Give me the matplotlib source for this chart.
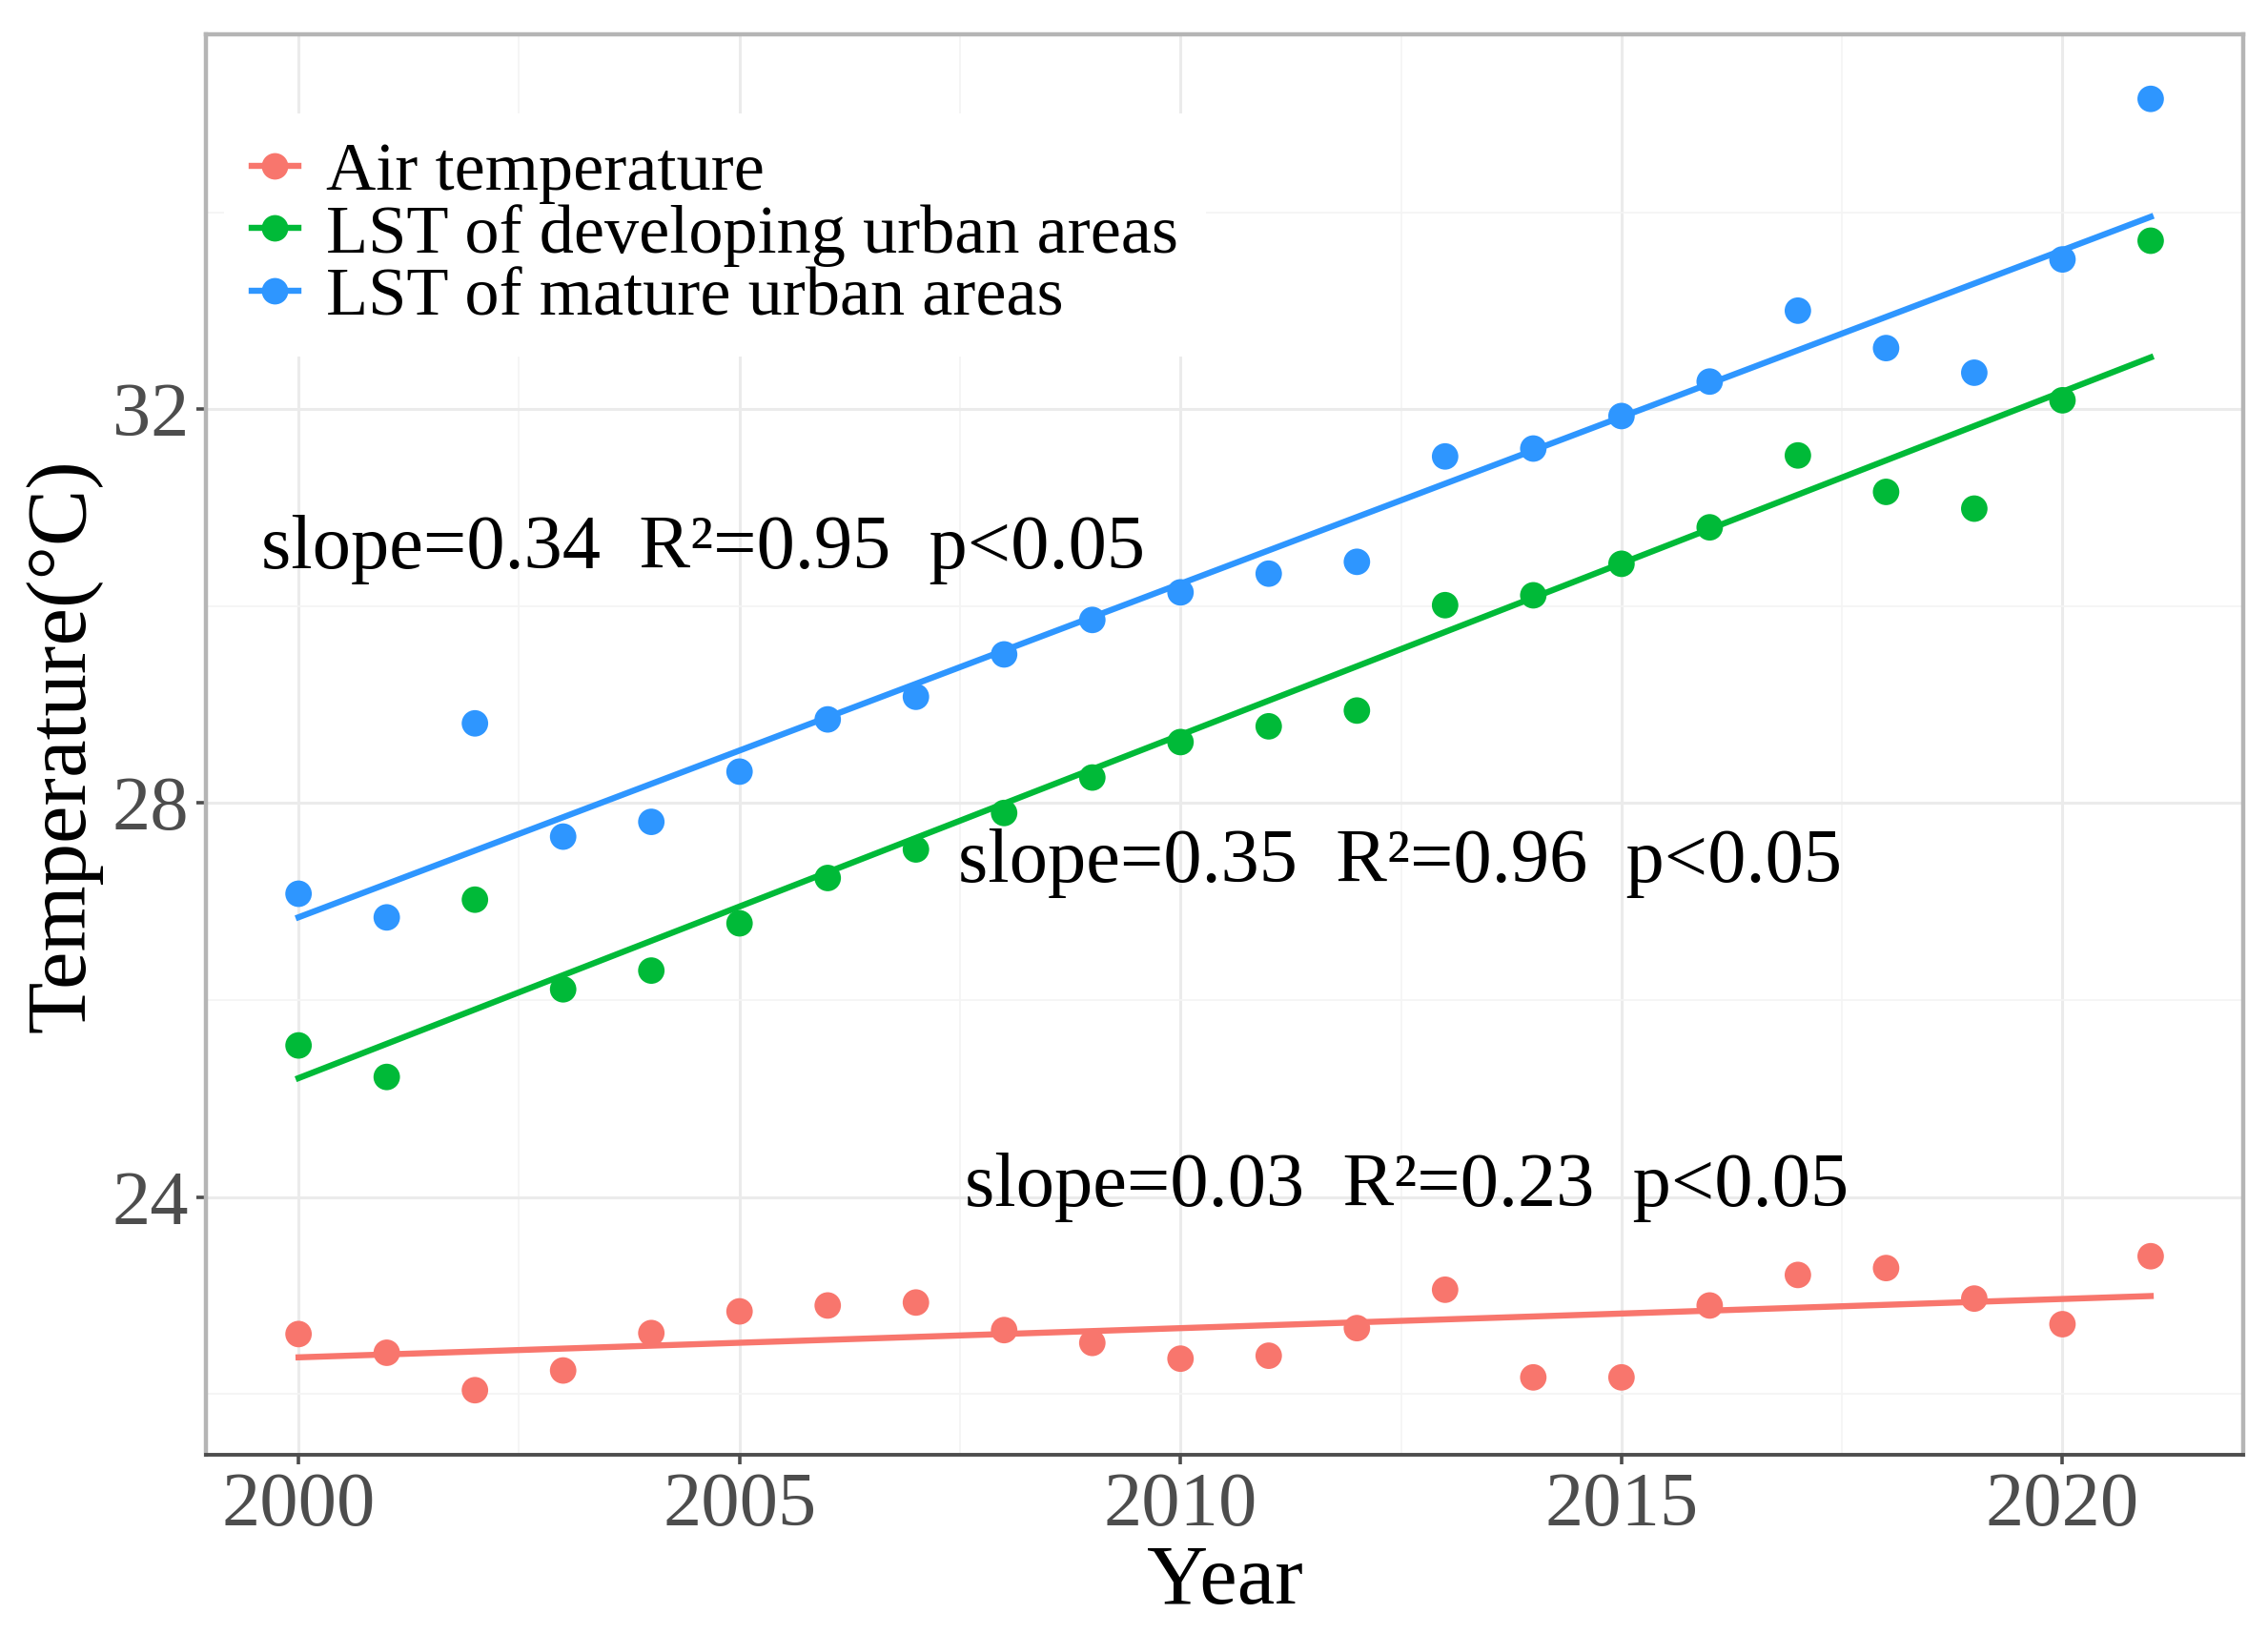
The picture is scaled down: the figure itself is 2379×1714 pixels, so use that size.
import numpy as np
import matplotlib
matplotlib.use('Agg')
import matplotlib.pyplot as plt
from matplotlib.ticker import MultipleLocator
from matplotlib.lines import Line2D

plt.rcParams['font.family'] = ['Liberation Serif', 'DejaVu Serif']

years = np.arange(2000, 2022)

air = [22.61, 22.42, 22.04, 22.24, 22.62, 22.84, 22.90, 22.93, 22.65, 22.52, 22.36,
       22.39, 22.67, 23.06, 22.17, 22.17, 22.90, 23.21, 23.28, 22.97, 22.71, 23.40]
developing = [25.54, 25.22, 27.02, 26.11, 26.30, 26.78, 27.24, 27.53, 27.90, 28.26, 28.62,
              28.78, 28.94, 30.01, 30.11, 30.43, 30.80, 31.53, 31.16, 30.99, 32.09, 33.71]
mature = [27.08, 26.84, 28.81, 27.66, 27.81, 28.32, 28.85, 29.08, 29.51, 29.86, 30.14,
          30.33, 30.45, 31.52, 31.60, 31.93, 32.28, 33.00, 32.62, 32.37, 33.52, 35.15]

series = [
    ('Air temperature', air, '#F8766D'),
    ('LST of developing urban areas', developing, '#00BA38'),
    ('LST of mature urban areas', mature, '#2E96FF'),
]

# (text, x, y) in data units
annotations = [
    ('slope=0.34  R\u00b2=0.95  p<0.05', 2004.59, 30.57),
    ('slope=0.35  R\u00b2=0.96  p<0.05', 2012.49, 27.39),
    ('slope=0.03  R\u00b2=0.23  p<0.05', 2012.56, 24.10),
]

fig = plt.figure(figsize=(11.895, 8.57), dpi=200)
ax = fig.add_axes([0.0908, 0.1097, 0.8983, 0.8693])

handles = []
for name, vals, col in series:
    vals = np.asarray(vals)
    k, b = np.polyfit(years, vals, 1)
    ax.plot(years, k * years + b, color=col, lw=2.3, zorder=3)
    ax.scatter(years, vals, s=100, color=col, edgecolors='none', zorder=4)
    handles.append(Line2D([], [], color=col, lw=2.3, marker='o', markersize=10,
                          markeredgewidth=0, label=name))

for txt, x, y in annotations:
    ax.text(x, y, txt, ha='center', va='center', fontsize=29, color='black', zorder=5)

allv = np.concatenate([air, developing, mature])
lo, hi = allv.min(), allv.max()
pad = 0.05 * (hi - lo)
ax.set_ylim(lo - pad, hi + pad)
ax.set_xlim(2000 - 0.05 * 21, 2021 + 0.05 * 21)

ax.xaxis.set_major_locator(MultipleLocator(5))
ax.xaxis.set_minor_locator(MultipleLocator(2.5))
ax.yaxis.set_major_locator(MultipleLocator(4))
ax.yaxis.set_minor_locator(MultipleLocator(2))
ax.set_yticks([24, 28, 32])

ax.grid(which='major', color='#EBEBEB', lw=1.1, zorder=0)
ax.grid(which='minor', color='#F4F4F4', lw=0.6, zorder=0)
ax.set_axisbelow(True)

for side in ['top', 'left', 'right']:
    ax.spines[side].set_color('#B5B5B5')
    ax.spines[side].set_linewidth(1.6)
ax.spines['bottom'].set_color('#4D4D4D')
ax.spines['bottom'].set_linewidth(1.4)

ax.tick_params(which='minor', length=0)
ax.tick_params(which='major', length=3.5, width=1.3, color='#4D4D4D',
               labelsize=29, labelcolor='#4D4D4D', pad=3)

ax.set_xlabel('Year', fontsize=32, va='center')
ax.xaxis.set_label_coords(0.5, -0.09)
ax.set_ylabel('Temperature(\u00b0C)', fontsize=32, va='center', ha='center')
ax.yaxis.set_label_coords(-0.0697, 0.4994)

leg = ax.legend(handles=handles, loc='center left', bbox_to_anchor=(0.0988, 0.8560),
                bbox_transform=fig.transFigure, fontsize=26, frameon=True,
                facecolor='white', edgecolor='none', framealpha=1, fancybox=False,
                borderpad=0.4, borderaxespad=0, handlelength=0.68, handletextpad=0.4,
                labelspacing=0.0, numpoints=1)
leg.set_zorder(6)

fig.savefig('out.png', dpi=200, facecolor='white')
